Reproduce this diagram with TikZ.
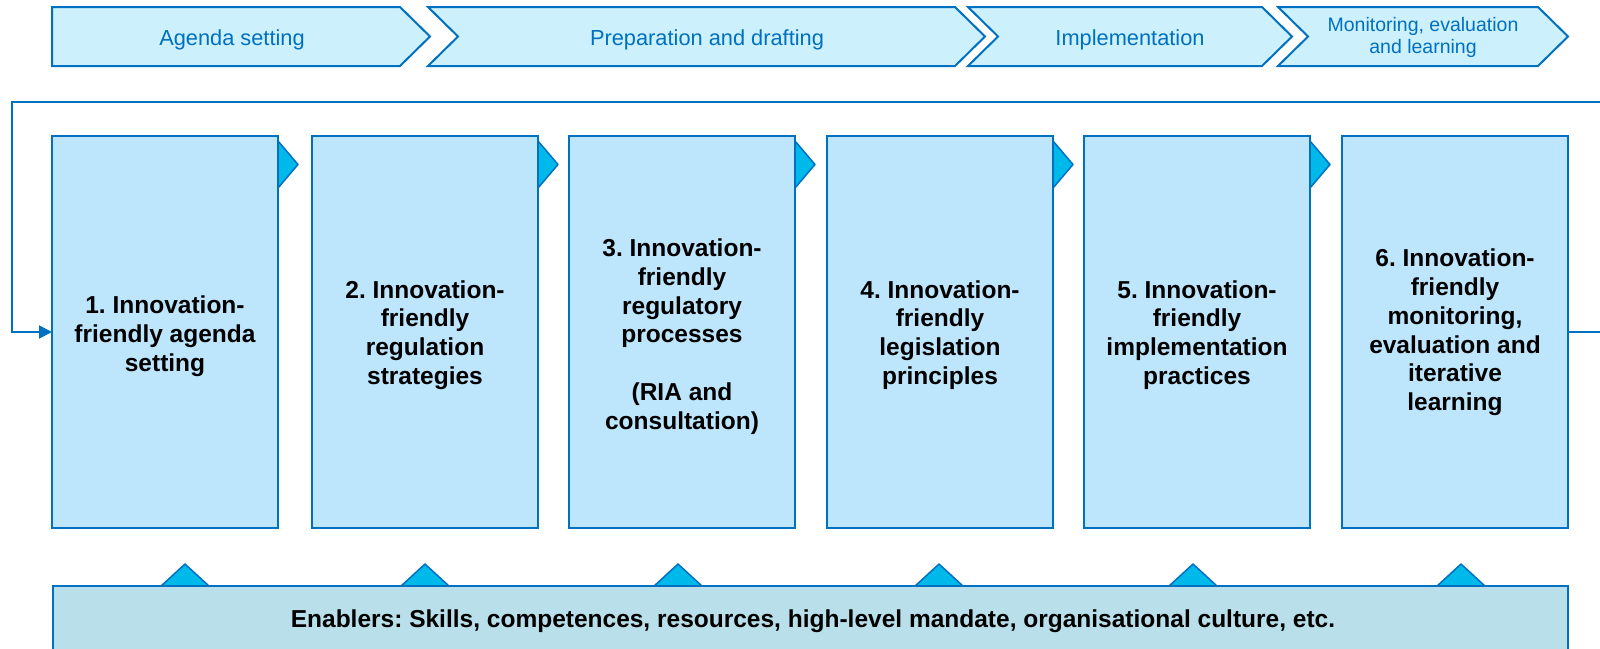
\documentclass[tikz,border=0pt]{standalone}
\usepackage{fontspec}
\setmainfont{Liberation Sans}
\usetikzlibrary{arrows.meta}
\definecolor{edge}{HTML}{0070C0}
\definecolor{chevfill}{HTML}{CCF0FC}
\definecolor{boxfill}{HTML}{BDE5FC}
\definecolor{tabfill}{HTML}{00B9EB}
\definecolor{enfill}{HTML}{B9DFEA}
\frenchspacing
\begin{document}
\begin{tikzpicture}[x=1pt,y=-1pt,
  chev/.style={draw=edge, fill=chevfill, line width=2pt, line join=miter},
  chevtext/.style={text=edge, font=\fontsize{21.8}{24}\selectfont, align=center, inner sep=0pt, anchor=base},
  chevsmall/.style={text=edge, font=\fontsize{19.5}{22}\selectfont, align=center, inner sep=0pt},
  stage/.style={draw=edge, fill=boxfill, line width=2.5pt, minimum width=226pt, minimum height=392pt,
    inner sep=0pt, outer sep=0pt},
  stagetext/.style={inner sep=0pt, align=center, font=\fontsize{24.5}{28.8}\selectfont\bfseries},
  tabshape/.style={draw=edge, fill=tabfill, line width=1.5pt, line join=round},
  loopline/.style={draw=edge, line width=2pt, -{Triangle[length=13pt,width=13pt]}},
  enablerbox/.style={draw=edge, fill=enfill, line width=2pt, minimum width=1515pt, minimum height=80pt, inner sep=0pt, outer sep=0pt},
  enablertext/.style={font=\fontsize{24.5}{27}\selectfont\bfseries, inner sep=0pt}]
\useasboundingbox (0,0) rectangle (1600,648);
\clip (0,0) rectangle (1600,648);

% top chevrons
\draw[chev] (52,7) -- (400,7) -- (430,36.5) -- (400,66) -- (52,66) -- cycle;
\draw[chev] (428,7) -- (955,7) -- (985,36.5) -- (955,66) -- (428,66) -- (458,36.5) -- cycle;
\draw[chev] (968,7) -- (1262,7) -- (1292,36.5) -- (1262,66) -- (968,66) -- (998,36.5) -- cycle;
\draw[chev] (1278,7) -- (1538,7) -- (1568,36.5) -- (1538,66) -- (1278,66) -- (1308,36.5) -- cycle;
\node[chevtext] (c1) at (232,45.5) {Agenda setting};
\node[chevtext] (c2) at (707,45.5) {Preparation and drafting};
\node[chevtext] (c3) at (1130,45.5) {Implementation};
\node[chevsmall] (c4) at (1423,37.5) {Monitoring, evaluation\\and learning};

% bottom triangles and enablers box
\foreach \cx in {185,425,678,939,1193,1461}{
  \draw[tabshape] (\cx-25,587) -- (\cx,564) -- (\cx+25,587);
}
\node[enablerbox] (en) at (810.5,626) {};
\node[enablertext, anchor=base] (entext) at (813,627) {Enablers: Skills, competences, resources, high-level mandate, organisational culture, etc.};

% stage boxes
\node[stage] (b1) at (165,332) {};
\node[stage] (b2) at (425,332) {};
\node[stage] (b3) at (682,332) {};
\node[stage] (b4) at (940,332) {};
\node[stage] (b5) at (1197,332) {};
\node[stage] (b6) at (1455,332) {};
\node[stagetext] (t1) at ([yshift=-4.5pt]b1.center) {1. Innovation-\\friendly agenda\\setting};
\node[stagetext] (t2) at ([yshift=-3pt]b2.center) {2. Innovation-\\friendly\\regulation\\strategies};
\node[stagetext] (t3) at ([yshift=-4.5pt]b3.center) {3. Innovation-\\friendly\\regulatory\\processes\\[28.8pt](RIA and\\consultation)};
\node[stagetext] (t4) at ([yshift=-3pt]b4.center) {4. Innovation-\\friendly\\legislation\\principles};
\node[stagetext] (t5) at ([yshift=-3pt]b5.center) {5. Innovation-\\friendly\\implementation\\practices};
\node[stagetext] (t6) at ([yshift=-0.5pt]b6.center) {6. Innovation-\\friendly\\monitoring,\\evaluation and\\iterative\\learning};

% tabs
\foreach \b in {b1,b2,b3,b4,b5}{
  \draw[tabshape] (\b.north east) ++(0,5) -- ++(20,23.5) -- ++(-20,23.5) -- cycle;
}

% feedback loop
\coordinate (corner) at (12,102);
\draw[loopline] (b6.east) -- ++(60,0) |- (corner) |- (b1.west);
\end{tikzpicture}
\end{document}
